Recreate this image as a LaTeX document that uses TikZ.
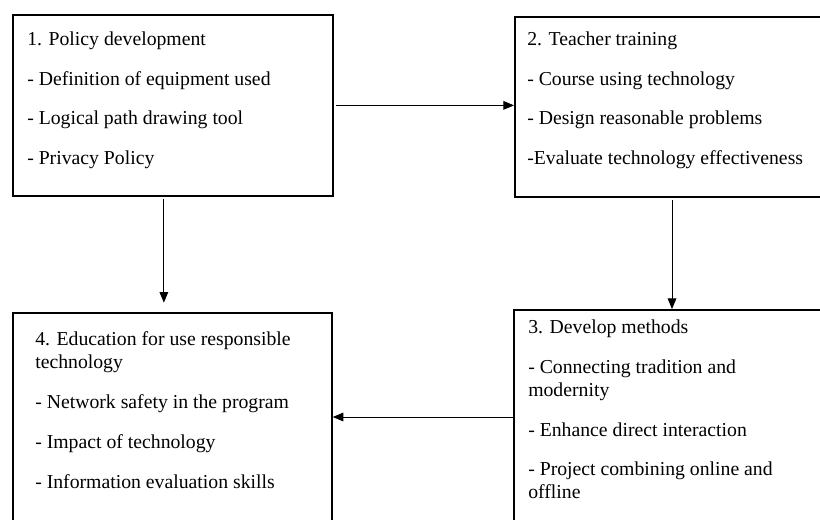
\documentclass[tikz,border=0pt]{standalone}
\usepackage{fontspec}
\setmainfont{Liberation Serif}
\usetikzlibrary{arrows.meta,calc}

\newcommand{\itemfont}{\fontsize{14.8pt}{17.25pt}\selectfont}

\tikzset{
  box/.style={draw, line width=1.3pt, inner sep=0pt, anchor=north west},
  itemtext/.style={anchor=north west, align=left, inner sep=0pt, font=\itemfont},
  flow/.style={-{Triangle[length=8pt,width=6.5pt]}, line width=0.7pt}
}

\begin{document}
\begin{tikzpicture}[x=0.75pt, y=-0.75pt]
\useasboundingbox (0,0) rectangle (820,519);
\clip (0,0) rectangle (820,519);

% the four boxes (2, 3 and 4 run past the page edge)
\node [box, minimum width=240pt, minimum height=135.75pt] (b1) at (12,14) {};
\node [box, minimum width=247.5pt, minimum height=135pt] (b2) at (514,16) {};
\node [box, minimum width=247.5pt, minimum height=172.5pt] (b3) at (513,309) {};
\node [box, minimum width=239.25pt, minimum height=172.5pt] (b4) at (12,312) {};

% box texts
\node [itemtext] (t1) at ($(b1.north west)+(15,17.5)$)
  {1. Policy development\\[12.4pt]
   - Definition of equipment used\\[12.4pt]
   - Logical path drawing tool\\[12.4pt]
   - Privacy Policy};
\node [itemtext] (t2) at ($(b2.north west)+(13,15.5)$)
  {2. Teacher training\\[12.4pt]
   - Course using technology\\[12.4pt]
   - Design reasonable problems\\[12.4pt]
   -Evaluate technology effectiveness};
\node [itemtext] (t3) at ($(b3.north west)+(15,10.5)$)
  {3. Develop methods\\[12.6pt]
   - Connecting tradition and\\
   modernity\\[12.6pt]
   - Enhance direct interaction\\[12.6pt]
   - Project combining online and\\
   offline};
\node [itemtext] (t4) at ($(b4.north west)+(23,19.5)$)
  {4. Education for use responsible\\
   technology\\[12.6pt]
   - Network safety in the program\\[12.6pt]
   - Impact of technology\\[12.6pt]
   - Information evaluation skills};

% connectors
\draw [flow, shorten <=2pt] (b1.east) -- (b1.east -| b2.west);
\draw [flow, shorten <=2pt, shorten >=7pt] ($(b1.south)+(-9,0)$) -- ($(b4.north)+(-8.5,0)$);
\coordinate (c23) at ($(b2.south west)+(158,0)$);
\draw [flow, shorten <=2pt] (c23) -- (c23 |- b3.north);
\coordinate (c34) at ($(b3.north west)+(0,108)$);
\draw [flow] (c34) -- (c34 -| b4.east);
\end{tikzpicture}
\end{document}
